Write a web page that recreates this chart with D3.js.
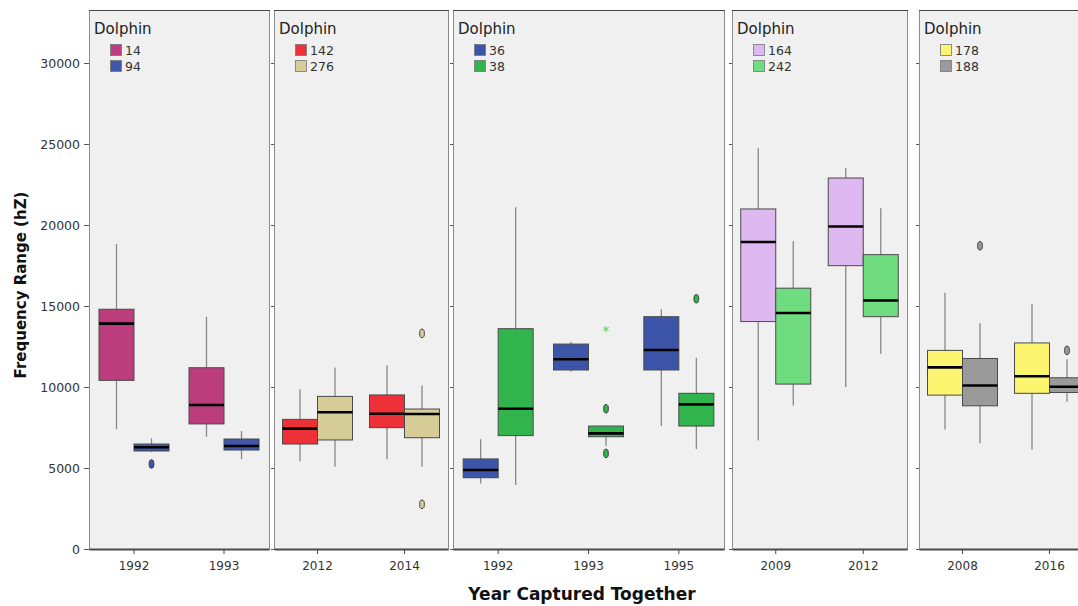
<!DOCTYPE html>
<html>
<head>
<meta charset="utf-8">
<script src="https://cdn.jsdelivr.net/npm/d3@7"></script>
<style>
  html, body { margin: 0; padding: 0; background: #fff; }
  svg { display: block; }
</style>
</head>
<body>
<svg id="chart" width="1078" height="606"></svg>
<script>
// ---------------- DATA ----------------
const panelYears = [["1992", "1993"], ["2012", "2014"], ["1992", "1993", "1995"], ["2009", "2012"], ["2008", "2016"]];
const panelDolphins = [["14", "94"], ["142", "276"], ["36", "38"], ["164", "242"], ["178", "188"]];
const yTicks = [0, 5000, 10000, 15000, 20000, 25000, 30000];

// [year, dolphin, low whisker, Q1, median, Q3, high whisker]
const panel1Boxes = [
  ["1992", "14", 7390, 10410, 13910, 14800, 18830],
  ["1992", "94", 5980, 6050, 6280, 6480, 6830],
  ["1993", "14", 6930, 7720, 8890, 11190, 14340],
  ["1993", "94", 5540, 6110, 6360, 6790, 7280]
];
const panel2Boxes = [
  ["2012", "142", 5410, 6480, 7430, 8000, 9860],
  ["2012", "276", 5080, 6730, 8440, 9420, 11210],
  ["2014", "142", 5540, 7490, 8350, 9510, 11340],
  ["2014", "276", 5080, 6870, 8330, 8640, 10100]
];
const panel3Boxes = [
  ["1992", "36", 4050, 4400, 4880, 5560, 6770],
  ["1992", "38", 3950, 7000, 8660, 13600, 21090],
  ["1993", "36", 10950, 11050, 11710, 12650, 12800],
  ["1993", "38", 6380, 6930, 7140, 7590, 7610],
  ["1995", "36", 7590, 11050, 12280, 14340, 14800],
  ["1995", "38", 6170, 7590, 8930, 9610, 11810]
];
const panel4Boxes = [
  ["2009", "164", 6690, 14040, 18950, 20990, 24730],
  ["2009", "242", 8860, 10180, 14570, 16100, 19020],
  ["2012", "164", 10000, 17490, 19910, 22900, 23520],
  ["2012", "242", 12050, 14340, 15340, 18170, 21030]
];
const panel5Boxes = [
  ["2008", "178", 7370, 9500, 11210, 12260, 15820],
  ["2008", "188", 6530, 8840, 10090, 11760, 13930],
  ["2016", "178", 6120, 9610, 10660, 12720, 15140],
  ["2016", "188", 9090, 9660, 10020, 10570, 11710]
];
const panelBoxes = [panel1Boxes, panel2Boxes, panel3Boxes, panel4Boxes, panel5Boxes];

// [panel index, year, dolphin, value, kind]
const outliers = [
  [0, "1992", "94", 5250, "o"],
  [1, "2014", "276", 13310, "o"],
  [1, "2014", "276", 2760, "o"],
  [2, "1993", "38", 8660, "o"],
  [2, "1993", "38", 5900, "o"],
  [2, "1993", "38", 13580, "*"],
  [2, "1995", "38", 15450, "o"],
  [4, "2008", "188", 18720, "o"],
  [4, "2016", "188", 12260, "o"]
];

// ---------------- STYLES / LAYOUT ----------------
const dolphinColors = {
  "14": "#bb3d7b", "94": "#3f56a9",
  "142": "#ee3039", "276": "#d5cc98",
  "36": "#3d55a9", "38": "#31b44b",
  "164": "#deb8f1", "242": "#6fdc80",
  "178": "#fbf56f", "188": "#9a9a9a"
};
const starColor = "#5fd860";
const panelX = [[89, 269], [274, 448], [453, 724], [732, 907], [919, 1093]];
const plotTop = 10, plotBottom = 549;
const boxW = 35;
const FONT = "'DejaVu Sans', Verdana, sans-serif";

const svg = d3.select("#chart");
const y = d3.scaleLinear().domain([0, 30000]).range([549, 63]);

panelYears.forEach((years, pi) => {
  const [x0, x1] = panelX[pi];
  const g = svg.append("g");
  const x = d3.scaleBand().domain(years).range([x0, x1]);
  const sub = d3.scaleBand().domain(panelDolphins[pi]).range([-boxW, boxW]);

  // background
  g.append("rect")
    .attr("x", x0 + 0.5).attr("y", plotTop + 0.5)
    .attr("width", x1 - x0).attr("height", plotBottom - plotTop)
    .attr("fill", "#f0f0f0").attr("stroke", "#8c8c8c").attr("stroke-width", 1);
  g.append("line")
    .attr("x1", x0).attr("x2", x1 + 1)
    .attr("y1", plotTop + 0.5).attr("y2", plotTop + 0.5)
    .attr("stroke", "#444").attr("stroke-width", 1.2);

  // left axis
  const ya = g.append("g").attr("transform", `translate(${x0},0)`);
  if (pi === 0) {
    ya.call(d3.axisLeft(y).tickValues(yTicks).tickSize(5).tickSizeOuter(0).tickFormat(d3.format("d")));
    ya.selectAll("text").attr("font-family", FONT).attr("font-size", "12.5px").attr("fill", "#333").attr("dx", "-1");
  } else {
    ya.call(d3.axisLeft(y).tickValues(yTicks).tickSize(3).tickSizeOuter(0).tickFormat(""));
  }
  ya.select(".domain").attr("stroke", "#8c8c8c");
  ya.selectAll(".tick line").attr("stroke", "#555");

  // bottom axis
  const xa = g.append("g").attr("transform", `translate(0,${plotBottom})`);
  xa.call(d3.axisBottom(x).tickSize(5).tickSizeOuter(0));
  xa.select(".domain").attr("stroke", "#4a4a4a").attr("stroke-width", 2.2);
  xa.selectAll(".tick line").attr("stroke", "#444");
  xa.selectAll("text").attr("font-family", FONT).attr("font-size", "12px").attr("fill", "#333").attr("dy", "1.05em");

  // boxes
  const data = panelBoxes[pi];
  data.forEach(d => {
    const [yr, dol, lo, q1, med, q3, hi] = d;
    const bx = x(yr) + x.bandwidth() / 2 + sub(dol);
    const cx = bx + sub.bandwidth() / 2;
    g.append("line").attr("x1", cx).attr("x2", cx)
      .attr("y1", y(hi)).attr("y2", y(lo))
      .attr("stroke", "#888").attr("stroke-width", 1.3);
    g.append("rect")
      .attr("x", bx).attr("y", y(q3))
      .attr("width", sub.bandwidth()).attr("height", y(q1) - y(q3))
      .attr("fill", dolphinColors[dol]).attr("stroke", "#4a4a4a").attr("stroke-width", 1);
    g.append("line").attr("x1", bx).attr("x2", bx + sub.bandwidth())
      .attr("y1", y(med)).attr("y2", y(med))
      .attr("stroke", "#000").attr("stroke-width", 2.6);
  });

  // outliers
  outliers.filter(o => o[0] === pi).forEach(o => {
    const [, yr, dol, val, kind] = o;
    const cx = x(yr) + x.bandwidth() / 2 + sub(dol) + sub.bandwidth() / 2;
    if (kind === "o") {
      g.append("ellipse").attr("cx", cx).attr("cy", y(val))
        .attr("rx", 2.4).attr("ry", 4.3)
        .attr("fill", dolphinColors[dol]).attr("stroke", "#333").attr("stroke-width", 0.9);
    } else {
      g.append("path")
        .attr("transform", `translate(${cx},${y(val)})`)
        .attr("d", d3.symbol(d3.symbolAsterisk, 28)())
        .attr("fill", "none").attr("stroke", starColor).attr("stroke-width", 1);
    }
  });

  // legend
  const lg = g.append("g").attr("transform", `translate(${x0 + 5},0)`);
  lg.append("text").attr("x", 0).attr("y", 34)
    .attr("font-family", FONT).attr("font-size", "15px").attr("fill", "#222")
    .text("Dolphin");
  panelDolphins[pi].forEach((dol, i) => {
    lg.append("rect").attr("x", 16.5).attr("y", 44.5 + i * 16)
      .attr("width", 11).attr("height", 11)
      .attr("fill", dolphinColors[dol]).attr("stroke", "#777").attr("stroke-width", 0.8);
    lg.append("text").attr("x", 31).attr("y", 55 + i * 16)
      .attr("font-family", FONT).attr("font-size", "12.5px").attr("fill", "#333")
      .text(dol);
  });
});

// axis titles
svg.append("text")
  .attr("transform", "translate(26,285) rotate(-90)")
  .attr("text-anchor", "middle")
  .attr("font-family", FONT).attr("font-weight", "bold").attr("font-size", "15px").attr("fill", "#111")
  .text("Frequency Range (hZ)");
svg.append("text")
  .attr("x", 582).attr("y", 600)
  .attr("text-anchor", "middle")
  .attr("font-family", FONT).attr("font-weight", "bold").attr("font-size", "17px").attr("fill", "#111")
  .text("Year Captured Together");
</script>
</body>
</html>
